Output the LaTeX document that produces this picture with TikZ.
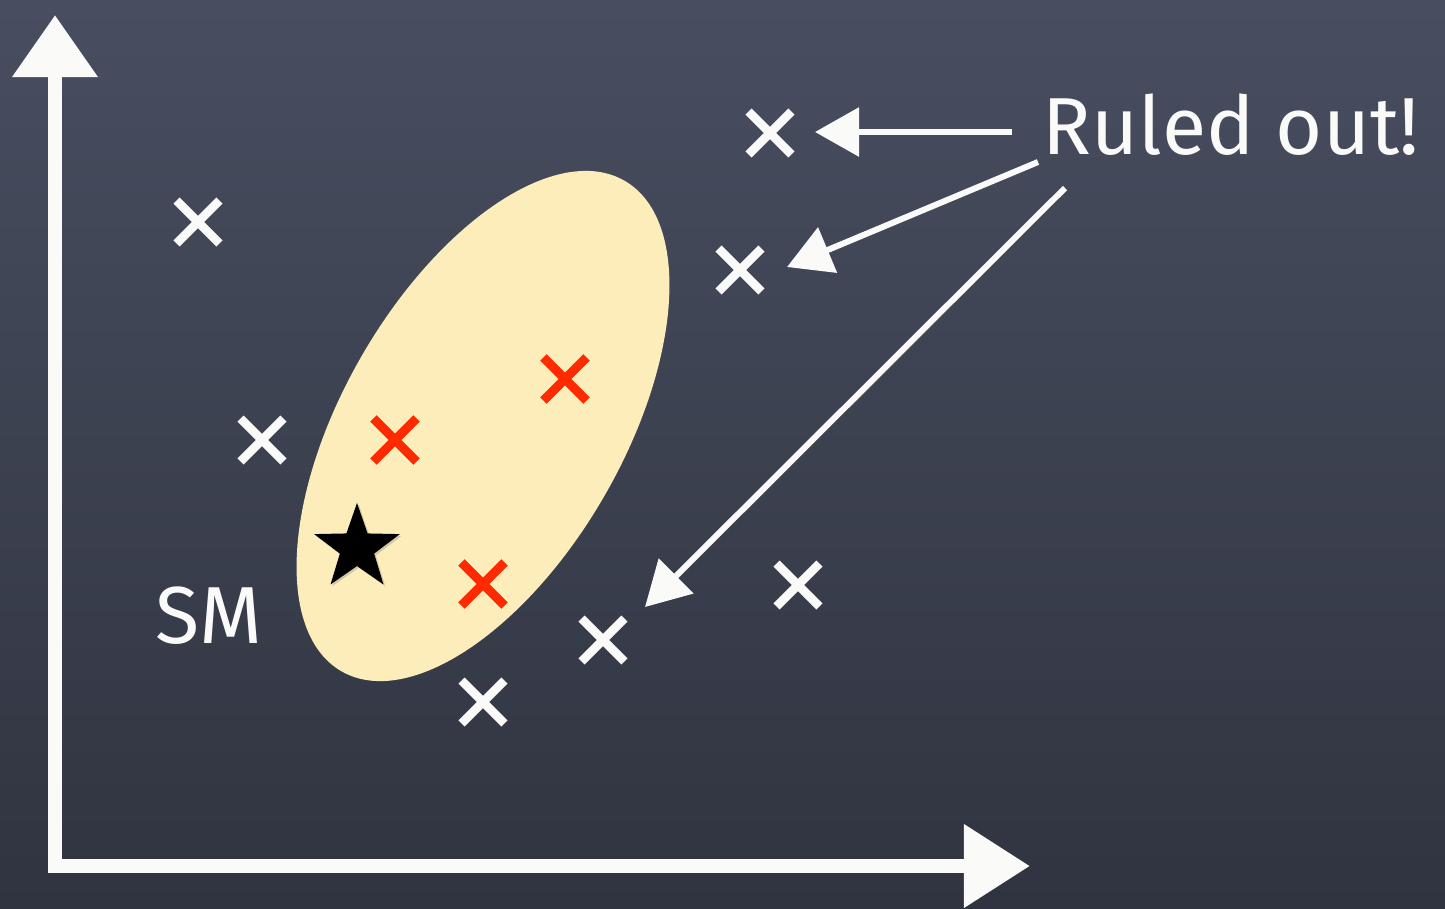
\documentclass[tikz,border=0pt]{standalone}
\usepackage{fontspec}
\setmainfont{Fira Sans}
\usetikzlibrary{arrows.meta,shapes.geometric,shapes.misc,shadows}
\definecolor{boardtop}{RGB}{72,78,96}
\definecolor{boardbot}{RGB}{48,52,64}
\definecolor{cream}{RGB}{253,237,187}
\definecolor{chalkred}{RGB}{255,42,0}
\definecolor{chalk}{RGB}{250,250,248}
\tikzset{
  wx/.style={cross out, draw=chalk, line width=2.5pt, minimum size=0.34cm, inner sep=0pt},
  rx/.style={cross out, draw=chalkred, line width=2.6pt, minimum size=0.34cm, inner sep=0pt},
  axis/.style={draw=chalk, line width=0.14cm, line join=miter},
  ruled/.style={draw=chalk, line width=0.06cm, -{Triangle[length=0.44cm, width=0.48cm]}},
  chalktext/.style={text=chalk, inner sep=0pt}
}
\begin{document}
\begin{tikzpicture}[x=0.01cm, y=-0.01cm]
\useasboundingbox (0,0) rectangle (1445,908);
\shade[top color=boardtop, bottom color=boardbot] (0,0) rectangle (1445,908);
% ellipse region
\fill[cream, shift={(483,426)}, rotate=60] (0,0) ellipse [x radius=2.83cm, y radius=1.40cm];
% axes
\coordinate (Y) at (55,15);
\coordinate (C) at (55,866);
\coordinate (X) at (1030,866);
\draw[axis, {Triangle[length=0.62cm, width=0.82cm]}-{Triangle[length=0.66cm, width=0.80cm]}] (Y) -- (C) -- (X);
% red crosses (allowed)
\node[rx] (r1) at (565,379) {};
\node[rx] (r2) at (395,440) {};
\node[rx] (r3) at (483,584) {};
% star (SM)
\node[star, star points=5, star point ratio=2.5, minimum size=0.9cm, inner sep=0pt, fill=black,
      drop shadow={opacity=0.35, shadow xshift=0.5pt, shadow yshift=-0.5pt}] (star) at (357,548) {};
\node[chalktext, font=\fontsize{23}{23}\selectfont, anchor=base west] (sm) at (155,643) {SM};
% white crosses (ruled out)
\node[wx] (w1) at (770,133) {};
\node[wx] (w2) at (198,222) {};
\node[wx] (w3) at (740,270) {};
\node[wx] (w4) at (262,440) {};
\node[wx] (w5) at (798,585) {};
\node[wx] (w6) at (603,640) {};
\node[wx] (w7) at (483,702) {};
% label
\node[chalktext, font=\fontsize{23}{23}\selectfont, anchor=base west] (lab) at (1042,154) {Ruled out!};
\coordinate (a1s) at (1012,132);
\coordinate (a1e) at (815,132);
\coordinate (a2s) at (1038,162);
\coordinate (a2e) at (787,267);
\coordinate (a3s) at (1065,188);
\coordinate (a3e) at (645,607);
\draw[ruled] (a1s) -- (a1e);
\draw[ruled] (a2s) -- (a2e);
\draw[ruled] (a3s) -- (a3e);
\end{tikzpicture}
\end{document}
